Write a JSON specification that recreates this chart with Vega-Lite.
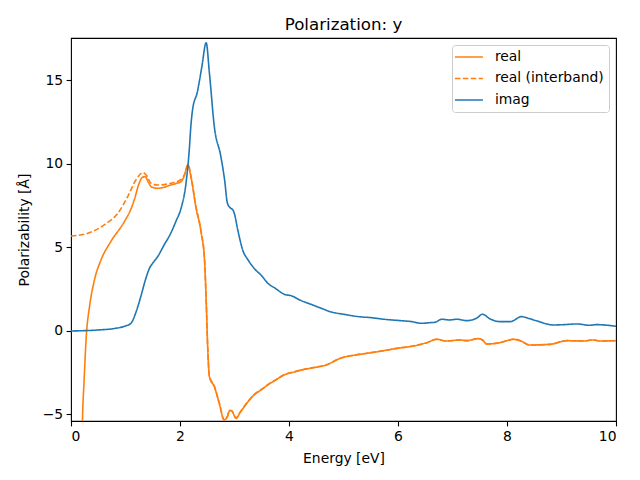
{
  "$schema": "https://vega.github.io/schema/vega-lite/v6.json",
  "width": 545,
  "height": 383,
  "autosize": "none",
  "padding": {"left": 71, "top": 38, "right": 24, "bottom": 59},
  "background": "white",
  "title": {"text": "Polarization: y", "fontSize": 16.67, "font": "DejaVu Sans", "fontWeight": "normal", "color": "black", "offset": 4},
  "config": {
    "view": {"stroke": "black", "strokeWidth": 1.1},
    "font": "DejaVu Sans",
    "axis": {
      "grid": false, "domain": false, "tickColor": "black", "tickSize": 4.9, "tickWidth": 1.1,
      "labelFont": "DejaVu Sans", "labelFontSize": 13.89, "labelColor": "black", "labelPadding": 3.5,
      "titleFont": "DejaVu Sans", "titleFontSize": 13.89, "titleFontWeight": "normal", "titleColor": "black"
    }
  },
  "data": {"values": [
    {"x":0.2,"y":-7,"s":"real"},{"x":0.21,"y":-5.43,"s":"real"},{"x":0.24,"y":-3,"s":"real"},{"x":0.28,"y":-0.34,"s":"real"},{"x":0.34,"y":1.46,"s":"real"},{"x":0.43,"y":3.05,"s":"real"},{"x":0.55,"y":4.25,"s":"real"},{"x":0.73,"y":5.35,"s":"real"},{"x":0.98,"y":6.55,"s":"real"},{"x":1.1,"y":7.3,"s":"real"},{"x":1.16,"y":7.84,"s":"real"},{"x":1.25,"y":8.84,"s":"real"},{"x":1.31,"y":9.2,"s":"real"},{"x":1.36,"y":9.24,"s":"real"},{"x":1.42,"y":8.9,"s":"real"},{"x":1.47,"y":8.64,"s":"real"},{"x":1.59,"y":8.54,"s":"real"},{"x":1.7,"y":8.6,"s":"real"},{"x":1.83,"y":8.74,"s":"real"},{"x":1.95,"y":8.85,"s":"real"},{"x":2.02,"y":8.94,"s":"real"},{"x":2.08,"y":9.3,"s":"real"},{"x":2.14,"y":9.94,"s":"real"},{"x":2.2,"y":9.24,"s":"real"},{"x":2.29,"y":7.44,"s":"real"},{"x":2.39,"y":5.85,"s":"real"},{"x":2.45,"y":4.25,"s":"real"},{"x":2.48,"y":1.86,"s":"real"},{"x":2.51,"y":-1.14,"s":"real"},{"x":2.54,"y":-2.74,"s":"real"},{"x":2.63,"y":-3.34,"s":"real"},{"x":2.72,"y":-4.33,"s":"real"},{"x":2.81,"y":-5.33,"s":"real"},{"x":2.87,"y":-5.13,"s":"real"},{"x":2.91,"y":-4.77,"s":"real"},{"x":2.95,"y":-4.8,"s":"real"},{"x":3.03,"y":-5.23,"s":"real"},{"x":3.1,"y":-4.9,"s":"real"},{"x":3.18,"y":-4.53,"s":"real"},{"x":3.36,"y":-3.83,"s":"real"},{"x":3.5,"y":-3.5,"s":"real"},{"x":3.61,"y":-3.23,"s":"real"},{"x":3.75,"y":-2.95,"s":"real"},{"x":3.91,"y":-2.63,"s":"real"},{"x":4.1,"y":-2.45,"s":"real"},{"x":4.28,"y":-2.3,"s":"real"},{"x":4.45,"y":-2.2,"s":"real"},{"x":4.69,"y":-2.03,"s":"real"},{"x":4.94,"y":-1.64,"s":"real"},{"x":5.2,"y":-1.45,"s":"real"},{"x":5.43,"y":-1.34,"s":"real"},{"x":5.7,"y":-1.2,"s":"real"},{"x":5.98,"y":-1.04,"s":"real"},{"x":6.28,"y":-0.9,"s":"real"},{"x":6.53,"y":-0.7,"s":"real"},{"x":6.71,"y":-0.5,"s":"real"},{"x":6.89,"y":-0.6,"s":"real"},{"x":7.14,"y":-0.54,"s":"real"},{"x":7.26,"y":-0.58,"s":"real"},{"x":7.47,"y":-0.46,"s":"real"},{"x":7.55,"y":-0.54,"s":"real"},{"x":7.63,"y":-0.78,"s":"real"},{"x":7.87,"y":-0.7,"s":"real"},{"x":8.12,"y":-0.5,"s":"real"},{"x":8.24,"y":-0.58,"s":"real"},{"x":8.42,"y":-0.84,"s":"real"},{"x":8.79,"y":-0.8,"s":"real"},{"x":9.1,"y":-0.58,"s":"real"},{"x":9.4,"y":-0.6,"s":"real"},{"x":9.58,"y":-0.54,"s":"real"},{"x":9.71,"y":-0.6,"s":"real"},{"x":10,"y":-0.58,"s":"real"},
    {"x":0,"y":5.69,"s":"real (interband)"},{"x":0.31,"y":5.85,"s":"real (interband)"},{"x":0.61,"y":6.35,"s":"real (interband)"},{"x":0.86,"y":7.05,"s":"real (interband)"},{"x":1.04,"y":8.04,"s":"real (interband)"},{"x":1.19,"y":9.04,"s":"real (interband)"},{"x":1.32,"y":9.48,"s":"real (interband)"},{"x":1.38,"y":9.34,"s":"real (interband)"},{"x":1.47,"y":8.84,"s":"real (interband)"},{"x":1.59,"y":8.74,"s":"real (interband)"},{"x":1.83,"y":8.84,"s":"real (interband)"},{"x":2.02,"y":9.08,"s":"real (interband)"},{"x":2.1,"y":9.5,"s":"real (interband)"},{"x":2.15,"y":9.98,"s":"real (interband)"},{"x":2.2,"y":9.3,"s":"real (interband)"},{"x":2.29,"y":7.5,"s":"real (interband)"},{"x":2.39,"y":5.9,"s":"real (interband)"},{"x":2.45,"y":4.3,"s":"real (interband)"},{"x":2.48,"y":1.9,"s":"real (interband)"},{"x":2.51,"y":-1.1,"s":"real (interband)"},{"x":2.54,"y":-2.7,"s":"real (interband)"},{"x":2.63,"y":-3.3,"s":"real (interband)"},{"x":2.72,"y":-4.3,"s":"real (interband)"},{"x":2.81,"y":-5.3,"s":"real (interband)"},{"x":2.87,"y":-5.1,"s":"real (interband)"},{"x":2.91,"y":-4.75,"s":"real (interband)"},{"x":2.95,"y":-4.78,"s":"real (interband)"},{"x":3.03,"y":-5.2,"s":"real (interband)"},{"x":3.1,"y":-4.88,"s":"real (interband)"},{"x":3.18,"y":-4.51,"s":"real (interband)"},{"x":3.36,"y":-3.81,"s":"real (interband)"},{"x":3.5,"y":-3.49,"s":"real (interband)"},{"x":3.61,"y":-3.22,"s":"real (interband)"},{"x":3.75,"y":-2.94,"s":"real (interband)"},{"x":3.91,"y":-2.62,"s":"real (interband)"},{"x":4.1,"y":-2.44,"s":"real (interband)"},{"x":4.28,"y":-2.29,"s":"real (interband)"},{"x":4.45,"y":-2.19,"s":"real (interband)"},{"x":4.69,"y":-2.02,"s":"real (interband)"},{"x":4.94,"y":-1.63,"s":"real (interband)"},{"x":5.2,"y":-1.44,"s":"real (interband)"},{"x":5.43,"y":-1.33,"s":"real (interband)"},{"x":5.7,"y":-1.2,"s":"real (interband)"},{"x":5.98,"y":-1.04,"s":"real (interband)"},{"x":6.28,"y":-0.9,"s":"real (interband)"},{"x":6.53,"y":-0.7,"s":"real (interband)"},{"x":6.71,"y":-0.5,"s":"real (interband)"},{"x":6.89,"y":-0.6,"s":"real (interband)"},{"x":7.14,"y":-0.54,"s":"real (interband)"},{"x":7.26,"y":-0.58,"s":"real (interband)"},{"x":7.47,"y":-0.46,"s":"real (interband)"},{"x":7.55,"y":-0.54,"s":"real (interband)"},{"x":7.63,"y":-0.78,"s":"real (interband)"},{"x":7.87,"y":-0.7,"s":"real (interband)"},{"x":8.12,"y":-0.5,"s":"real (interband)"},{"x":8.24,"y":-0.58,"s":"real (interband)"},{"x":8.42,"y":-0.84,"s":"real (interband)"},{"x":8.79,"y":-0.8,"s":"real (interband)"},{"x":9.1,"y":-0.58,"s":"real (interband)"},{"x":9.4,"y":-0.6,"s":"real (interband)"},{"x":9.58,"y":-0.54,"s":"real (interband)"},{"x":9.71,"y":-0.6,"s":"real (interband)"},{"x":10,"y":-0.58,"s":"real (interband)"},
    {"x":0,"y":0,"s":"imag"},{"x":0.5,"y":0.06,"s":"imag"},{"x":0.8,"y":0.15,"s":"imag"},{"x":1.0,"y":0.3,"s":"imag"},{"x":1.1,"y":0.46,"s":"imag"},{"x":1.2,"y":1.2,"s":"imag"},{"x":1.28,"y":2.05,"s":"imag"},{"x":1.36,"y":3.0,"s":"imag"},{"x":1.44,"y":3.75,"s":"imag"},{"x":1.52,"y":4.15,"s":"imag"},{"x":1.59,"y":4.45,"s":"imag"},{"x":1.7,"y":5.1,"s":"imag"},{"x":1.83,"y":5.85,"s":"imag"},{"x":1.93,"y":6.6,"s":"imag"},{"x":2.02,"y":7.35,"s":"imag"},{"x":2.11,"y":8.84,"s":"imag"},{"x":2.17,"y":10.84,"s":"imag"},{"x":2.2,"y":12.3,"s":"imag"},{"x":2.23,"y":13.23,"s":"imag"},{"x":2.32,"y":14.33,"s":"imag"},{"x":2.4,"y":15.8,"s":"imag"},{"x":2.48,"y":17.26,"s":"imag"},{"x":2.54,"y":15.43,"s":"imag"},{"x":2.63,"y":12.23,"s":"imag"},{"x":2.75,"y":10.44,"s":"imag"},{"x":2.82,"y":9.0,"s":"imag"},{"x":2.87,"y":7.65,"s":"imag"},{"x":2.93,"y":7.35,"s":"imag"},{"x":2.97,"y":7.25,"s":"imag"},{"x":3.0,"y":7.0,"s":"imag"},{"x":3.06,"y":6.05,"s":"imag"},{"x":3.15,"y":4.85,"s":"imag"},{"x":3.25,"y":4.25,"s":"imag"},{"x":3.36,"y":3.75,"s":"imag"},{"x":3.5,"y":3.3,"s":"imag"},{"x":3.61,"y":2.86,"s":"imag"},{"x":3.75,"y":2.55,"s":"imag"},{"x":3.91,"y":2.2,"s":"imag"},{"x":4.05,"y":2.1,"s":"imag"},{"x":4.2,"y":1.85,"s":"imag"},{"x":4.4,"y":1.6,"s":"imag"},{"x":4.59,"y":1.36,"s":"imag"},{"x":4.75,"y":1.16,"s":"imag"},{"x":5.0,"y":1.0,"s":"imag"},{"x":5.3,"y":0.85,"s":"imag"},{"x":5.5,"y":0.8,"s":"imag"},{"x":5.75,"y":0.7,"s":"imag"},{"x":6.04,"y":0.62,"s":"imag"},{"x":6.25,"y":0.56,"s":"imag"},{"x":6.43,"y":0.46,"s":"imag"},{"x":6.6,"y":0.5,"s":"imag"},{"x":6.68,"y":0.52,"s":"imag"},{"x":6.8,"y":0.7,"s":"imag"},{"x":6.95,"y":0.66,"s":"imag"},{"x":7.08,"y":0.7,"s":"imag"},{"x":7.26,"y":0.62,"s":"imag"},{"x":7.44,"y":0.76,"s":"imag"},{"x":7.55,"y":1.0,"s":"imag"},{"x":7.69,"y":0.72,"s":"imag"},{"x":7.87,"y":0.56,"s":"imag"},{"x":8.06,"y":0.56,"s":"imag"},{"x":8.27,"y":0.86,"s":"imag"},{"x":8.4,"y":0.75,"s":"imag"},{"x":8.55,"y":0.6,"s":"imag"},{"x":8.85,"y":0.36,"s":"imag"},{"x":9.05,"y":0.38,"s":"imag"},{"x":9.28,"y":0.42,"s":"imag"},{"x":9.52,"y":0.34,"s":"imag"},{"x":9.65,"y":0.38,"s":"imag"},{"x":10,"y":0.28,"s":"imag"}
  ]},
  "mark": {"type": "line", "clip": true, "strokeWidth": 1.6, "interpolate": "monotone"},
  "encoding": {
    "x": {"field": "x", "type": "quantitative", "title": "Energy [eV]",
          "scale": {"domain": [0, 10], "nice": false, "zero": false},
          "axis": {"values": [0, 2, 4, 6, 8, 10], "titlePadding": 8}},
    "y": {"field": "y", "type": "quantitative", "title": "Polarizability [Å]",
          "scale": {"domain": [-5.39, 17.54], "nice": false, "zero": false},
          "axis": {"values": [-5, 0, 5, 10, 15], "titlePadding": 11}},
    "color": {"field": "s", "type": "nominal",
              "scale": {"domain": ["real", "real (interband)", "imag"], "range": ["#ff7f0e", "#ff7f0e", "#1f77b4"]},
              "legend": {"title": null, "orient": "top-right", "offset": 7, "fillColor": "rgba(255,255,255,0.8)", "strokeColor": "#cccccc", "cornerRadius": 3, "padding": 5, "labelFontSize": 13.89, "labelFont": "DejaVu Sans", "labelColor": "black", "symbolType": "M-3.5,0H3.5", "symbolSize": 64, "symbolStrokeWidth": 1.6, "symbolOffset": 5, "rowPadding": 6.5, "labelOffset": 19}},
    "strokeDash": {"field": "s", "type": "nominal",
              "scale": {"domain": ["real", "real (interband)", "imag"], "range": [[1, 0], [5.5, 2.4], [1, 0]]},
              "legend": {"title": null}},
    "order": {"field": "x", "type": "quantitative"}
  }
}
